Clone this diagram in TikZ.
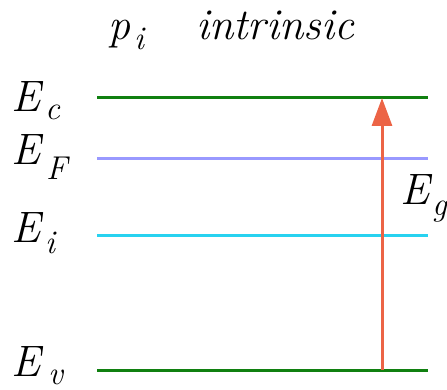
\documentclass[tikz,border=0pt]{standalone}
\usetikzlibrary{arrows.meta}
\definecolor{bandgreen}{RGB}{16,128,16}
\definecolor{fermi}{RGB}{153,153,255}
\definecolor{intr}{RGB}{40,210,240}
\definecolor{gaparrow}{RGB}{236,100,70}
\tikzset{
  lbl/.style={anchor=base west, inner sep=0pt, font=\fontsize{44}{44}\selectfont\itshape},
  sub/.style={anchor=base west, inner sep=0pt, font=\fontsize{33}{33}\selectfont\itshape},
  level/.style={line width=3pt},
}
\begin{document}
\begin{tikzpicture}[x=1pt,y=-1pt]
\useasboundingbox (0,0) rectangle (447,390);
% header
\node[lbl] (p) at (108,40) {p};
\node[sub] (pi) at (134,50) {i};
\node[lbl] (intr) at (196,40) {intrinsic};
% levels
\coordinate (c1) at (97,98);  \coordinate (c2) at (428,98);
\coordinate (f1) at (97,159); \coordinate (f2) at (428,159);
\coordinate (i1) at (97,235); \coordinate (i2) at (428,235);
\coordinate (v1) at (97,370); \coordinate (v2) at (428,370);
\draw[level, bandgreen] (c1) -- (c2);
\draw[level, fermi] (f1) -- (f2);
\draw[level, intr] (i1) -- (i2);
\draw[level, bandgreen] (v1) -- (v2);
% labels
\node[lbl] (Ec) at (11,112) {E};
\node[sub] (Ecs) at (45,120) {c};
\node[lbl] (EF) at (11,165) {E};
\node[sub] (EFs) at (46,180) {F};
\node[lbl] (Ei) at (11,243) {E};
\node[sub] (Eis) at (45,253) {i};
\node[lbl] (Ev) at (11,376) {E};
\node[sub] (Evs) at (48,384) {v};
\node[lbl] (Eg) at (400,205) {E};
\node[sub] (Egs) at (432,216) {g};
% gap arrow
\coordinate (a1) at (382,370);
\coordinate (a2) at (382,98);
\draw[line width=3pt, gaparrow, -{Triangle[length=28pt,width=20pt]}] (a1) -- (a2);
\end{tikzpicture}
\end{document}
